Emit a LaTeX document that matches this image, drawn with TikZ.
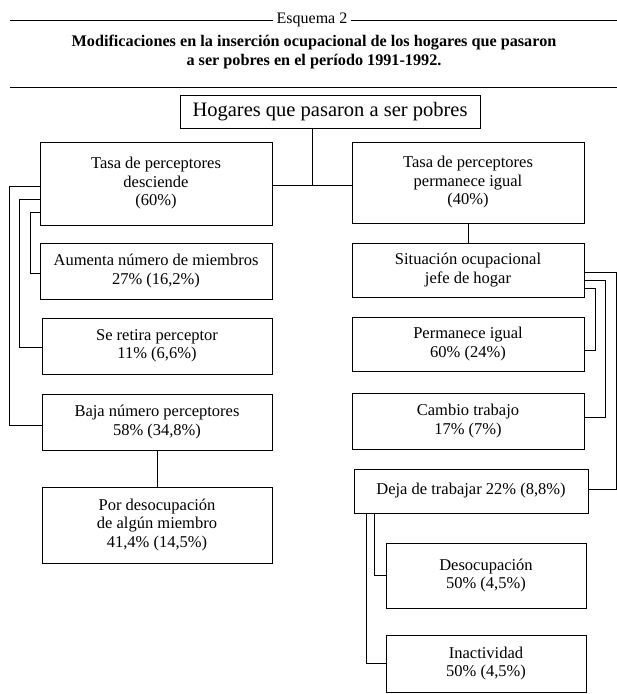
\documentclass[tikz,border=0pt]{standalone}
\usepackage{fontspec}
\setmainfont{Liberation Serif}
\begin{document}
\begin{tikzpicture}[x=1pt,y=-1pt,
    caja/.style={draw=black,line width=0.9pt,fill=white,align=center,inner sep=2pt,
                 font=\fontsize{16.5}{18.5}\selectfont},
    linea/.style={line width=0.7pt}]
            \useasboundingbox (0,0) rectangle (617,694);
            % encabezado
            \node[font=\fontsize{16}{18}\selectfont] (esq) at (312,20) {Esquema 2};
            \node[font=\bfseries\fontsize{16.2}{19}\selectfont,align=center] (tit) at (314,52)
                {Modificaciones en la inserción ocupacional de los hogares que pasaron\\
                 a ser pobres en el período 1991-1992.};
            \draw[linea] (10,20) -- (esq.west);
            \draw[linea] (esq.east) -- (617,20);
            \draw[linea] (10,87) -- (617,87);

            \node[caja,minimum width=300pt,minimum height=33pt,font=\fontsize{20.5}{22}\selectfont] (hog) at (330,111.5) {Hogares que pasaron a ser pobres};

            % columna izquierda
            \node[caja,minimum width=232pt,minimum height=83pt] (tdes) at (156,183.5) {Tasa de perceptores\\desciende\\(60\%)};
            \node[caja,minimum width=232pt,minimum height=56pt] (aum) at (156,271) {Aumenta número de miembros\\27\% (16,2\%)};
            \node[caja,minimum width=230pt,minimum height=56pt] (ret) at (157,346) {Se retira perceptor\\11\% (6,6\%)};
            \node[caja,minimum width=230pt,minimum height=56pt] (baja) at (157,422) {Baja número perceptores\\58\% (34,8\%)};
            \node[caja,minimum width=230pt,minimum height=76pt] (pord) at (157,525) {Por desocupación\\de algún miembro\\41,4\% (14,5\%)};

            % columna derecha
            \node[caja,minimum width=232pt,minimum height=81pt] (tig) at (468,182.5) {Tasa de perceptores\\permanece igual\\(40\%)};
            \node[caja,minimum width=232pt,minimum height=54pt] (sit) at (468,270) {Situación ocupacional\\jefe de hogar};
            \node[caja,minimum width=232pt,minimum height=54pt] (perm) at (468,344) {Permanece igual\\60\% (24\%)};
            \node[caja,minimum width=232pt,minimum height=56pt] (camb) at (468,421) {Cambio trabajo\\17\% (7\%)};
            \node[caja,minimum width=234pt,minimum height=44pt] (deja) at (471,491) {Deja de trabajar 22\% (8,8\%)};
            \node[caja,minimum width=200pt,minimum height=65pt] (deso) at (486,575.5) {Desocupación\\50\% (4,5\%)};
            \node[caja,minimum width=200pt,minimum height=57pt] (inac) at (486,663.5) {Inactividad\\50\% (4,5\%)};

            \coordinate (ramal) at ([yshift=-1.5pt]tdes.east);
            \draw[linea] ([xshift=-18pt]hog.south) -- ([xshift=-18pt]hog.south |- ramal);
            \draw[linea] (ramal) -- (ramal -| tig.west);
            \draw[linea] (tig.south) -- (sit.north);
            \draw[linea] (baja.south) -- (pord.north);

            \draw[linea] ([yshift=-2.5pt]tdes.west) -- ++(-30,0) |- ([yshift=-3pt]baja.west);
            \draw[linea] ([yshift=-15.5pt]tdes.west) -- ++(-20,0) |- ([yshift=-1pt]ret.west);
            \draw[linea] ([yshift=-28.5pt]tdes.west) -- ++(-9,0) |- ([yshift=-2pt]aum.west);

            \draw[linea] ([yshift=-18pt]sit.east) -- ++(11,0) |- ([yshift=-6pt]perm.east);
            \draw[linea] ([yshift=-10pt]sit.east) -- ++(21,0) |- ([yshift=4pt]camb.east);
            \draw[linea] ([yshift=-2pt]sit.east) -- ++(32,0) |- ([yshift=2pt]deja.east);

            \draw[linea] ([xshift=21pt]deja.south west) |- (deso.west);
            \draw[linea] ([xshift=13pt]deja.south west) |- (inac.west);
        \end{tikzpicture}
\end{document}
